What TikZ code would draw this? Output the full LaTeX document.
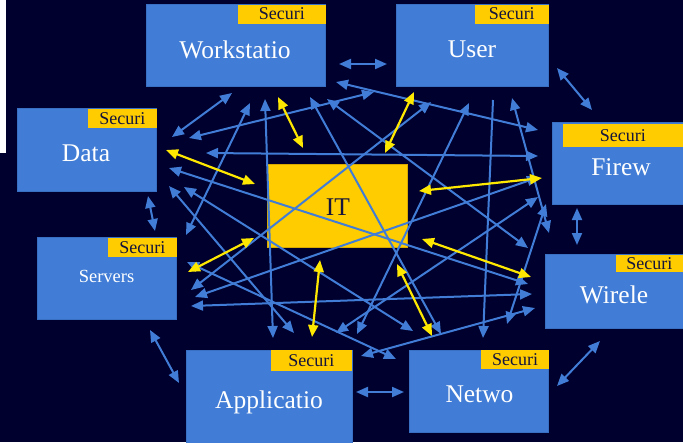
\documentclass[tikz,border=0pt]{standalone}
\usepackage{fontspec}
\setmainfont{Liberation Serif}
\usepackage{tikz}
\usetikzlibrary{arrows.meta}

\definecolor{bgnavy}{HTML}{00002E}
\definecolor{boxblue}{HTML}{417DD6}
\definecolor{boxedge}{HTML}{3A70C4}
\definecolor{tabyellow}{HTML}{FFCC00}
\definecolor{itedge}{HTML}{D9A900}
\definecolor{linkyellow}{HTML}{FFE800}
\definecolor{inknavy}{HTML}{14143C}

\begin{document}
\begin{tikzpicture}[x=1pt, y=-1pt,
    >={Triangle[length=12pt, width=10pt]},
    box/.style={draw=boxedge, line width=0.8pt, fill=boxblue, anchor=north west, inner sep=0pt},
    itbox/.style={draw=itedge, line width=0.8pt, fill=tabyellow, anchor=north west, inner sep=0pt},
    tab/.style={fill=tabyellow, anchor=north east, inner sep=0pt, text=inknavy, font=\fontsize{18}{20}\selectfont},
    boxtext/.style={anchor=base, inner sep=0pt, text=white, font=\fontsize{25.5}{28}\selectfont},
    link/.style={boxblue, line width=2pt, <->},
    itlink/.style={linkyellow, line width=2.2pt, <->}]

        \useasboundingbox (0,0) rectangle (683,442);
        \fill[bgnavy] (0,0) rectangle (683,442);
        \fill[white] (0,0) rectangle (6,153);

        % boxes
        \node[box, minimum width=179.3pt, minimum height=81.7pt] (ws) at (145.7,4.3) {};
        \node[box, minimum width=152.3pt, minimum height=81.7pt] (us) at (396,4.3) {};
        \node[box, minimum width=139.3pt, minimum height=82.7pt] (da) at (16.7,108.3) {};
        \node[box, minimum width=140pt, minimum height=82pt] (fw) at (551.7,122.3) {};
        \node[box, minimum width=139.3pt, minimum height=82pt] (sv) at (36.7,237.3) {};
        \node[box, minimum width=145pt, minimum height=74pt] (wl) at (545,254.3) {};
        \node[box, minimum width=166pt, minimum height=95pt] (ap) at (185.7,350) {};
        \node[box, minimum width=139.3pt, minimum height=82pt] (nw) at (409,350) {};
        \node[itbox, minimum width=139.4pt, minimum height=82.4pt] (it) at (267.3,164.3) {};

        \node[tab, minimum width=87.3pt, minimum height=19pt] (wsT) at (ws.north east) {Securi};
        \node[tab, minimum width=74.3pt, minimum height=19pt] (usT) at (us.north east) {Securi};
        \node[tab, minimum width=68.3pt, minimum height=19.4pt] (daT) at (da.north east) {Securi};
        \node[tab, minimum width=120pt, minimum height=22.7pt] (fwT) at (683,124) {Securi};
        \node[tab, minimum width=68.3pt, minimum height=19.4pt] (svT) at (sv.north east) {Securi};
        \node[tab, minimum width=67pt, minimum height=17.4pt] (wlT) at (683,254.3) {Securi};
        \node[tab, minimum width=81.7pt, minimum height=20.7pt] (apT) at (ap.north east) {Securi};
        \node[tab, minimum width=67.6pt, minimum height=19pt] (nwT) at (nw.north east) {Securi};

        % ring
        \coordinate(wU) at (339, 64);
        \coordinate(uW) at (387, 64);
        \coordinate(uF) at (557, 68);
        \coordinate(fU) at (592, 110);
        \coordinate(fL) at (577, 208);
        \coordinate(lF) at (577, 245);
        \coordinate(lN) at (600, 341);
        \coordinate(nL) at (557, 386);
        \coordinate(nA) at (404, 392);
        \coordinate(aN) at (356, 392);
        \coordinate(aS) at (179, 383);
        \coordinate(sA) at (150, 330);
        \coordinate(dS) at (148, 196);
        \coordinate(sD) at (155, 231);
        \coordinate(dW) at (172, 137);
        \coordinate(wD) at (232, 93);

        % IT
        \coordinate(iW) at (303, 148);
        \coordinate(wI) at (278, 97);
        \coordinate(iD) at (255, 184);
        \coordinate(dI) at (166, 150);
        \coordinate(iU) at (385, 153);
        \coordinate(uI) at (414, 92);
        \coordinate(iF) at (419, 191);
        \coordinate(fI) at (542, 178);
        \coordinate(iS) at (254, 238);
        \coordinate(sI) at (188, 272);
        \coordinate(iA) at (320, 260);
        \coordinate(aI) at (312, 337);
        \coordinate(iN) at (397, 264);
        \coordinate(nI) at (432, 336);
        \coordinate(iL) at (422, 239);
        \coordinate(lI) at (531, 277);

        % cross links
        \coordinate(wF) at (336, 82);
        \coordinate(fW) at (538, 130);
        \coordinate(wS) at (250, 103);
        \coordinate(sW) at (186, 235);
        \coordinate(wL) at (327, 99);
        \coordinate(lW) at (528, 248);
        \coordinate(wA) at (265, 99);
        \coordinate(aW) at (273, 338);
        \coordinate(wN) at (310, 97);
        \coordinate(nW) at (441, 334);
        \coordinate(uD) at (374, 92);
        \coordinate(dU) at (189, 138);
        \coordinate(uS) at (431, 102);
        \coordinate(sU) at (191, 290);
        \coordinate(uL) at (512, 98);
        \coordinate(lU) at (549, 233);
        \coordinate(uA) at (469, 103);
        \coordinate(aU) at (357, 334);
        \coordinate(uN) at (493, 100);
        \coordinate(nU) at (483, 338);
        \coordinate(dF) at (206, 153);
        \coordinate(fD) at (538, 156);
        \coordinate(dL) at (169, 168);
        \coordinate(lD) at (528, 284);
        \coordinate(dA) at (169, 186);
        \coordinate(aD) at (294, 333);
        \coordinate(dN) at (184, 187);
        \coordinate(nD) at (413, 331);
        \coordinate(fS) at (539, 177);
        \coordinate(sF) at (195, 297);
        \coordinate(fA) at (538, 197);
        \coordinate(aF) at (336, 333);
        \coordinate(fN) at (546, 204);
        \coordinate(nF) at (507, 324);
        \coordinate(sL) at (191, 306);
        \coordinate(lS) at (532, 294);
        \coordinate(sN) at (187, 262);
        \coordinate(nS) at (396, 359);
        \coordinate(lA) at (535, 308);
        \coordinate(aL) at (361, 356);

        \draw[link] (wU) -- (uW);
        \draw[link] (uF) -- (fU);
        \draw[link] (fL) -- (lF);
        \draw[link] (lN) -- (nL);
        \draw[link] (nA) -- (aN);
        \draw[link] (aS) -- (sA);
        \draw[link] (dS) -- (sD);
        \draw[link] (dW) -- (wD);

        \draw[link] (wF) -- (fW);
        \draw[link] (wS) -- (sW);
        \draw[link] (wL) -- (lW);
        \draw[link] (wA) -- (aW);
        \draw[link] (wN) -- (nW);
        \draw[link] (uD) -- (dU);
        \draw[link] (uS) -- (sU);
        \draw[link] (uL) -- (lU);
        \draw[link] (uA) -- (aU);
        \draw[link, ->] (uN) -- (nU);
        \draw[link] (dF) -- (fD);
        \draw[link] (dL) -- (lD);
        \draw[link] (dA) -- (aD);
        \draw[link] (dN) -- (nD);
        \draw[link] (fS) -- (sF);
        \draw[link] (fA) -- (aF);
        \draw[link] (fN) -- (nF);
        \draw[link] (sL) -- (lS);
        \draw[link] (sN) -- (nS);
        \draw[link] (lA) -- (aL);

        \draw[itlink] (iW) -- (wI);
        \draw[itlink] (iD) -- (dI);
        \draw[itlink] (iU) -- (uI);
        \draw[itlink] (iF) -- (fI);
        \draw[itlink] (iS) -- (sI);
        \draw[itlink] (iA) -- (aI);
        \draw[itlink] (iN) -- (nI);
        \draw[itlink] (iL) -- (lI);

        % labels
        \node[boxtext] (wsL) at (235, 58) {Workstatio};
        \node[boxtext] (usL) at (472, 57) {User};
        \node[boxtext] (daL) at (86, 161) {Data};
        \node[boxtext] (fwL) at (621, 175) {Firew};
        \node[boxtext, font=\fontsize{18.5}{20}\selectfont] (svL) at (106.5, 282) {Servers};
        \node[boxtext] (wlL) at (614, 303) {Wirele};
        \node[boxtext] (apL) at (269, 408) {Applicatio};
        \node[boxtext] (nwL) at (479.5, 402) {Netwo};
        \node[boxtext, text=inknavy] (itL) at (338, 215) {IT};

    \end{tikzpicture}
\end{document}
